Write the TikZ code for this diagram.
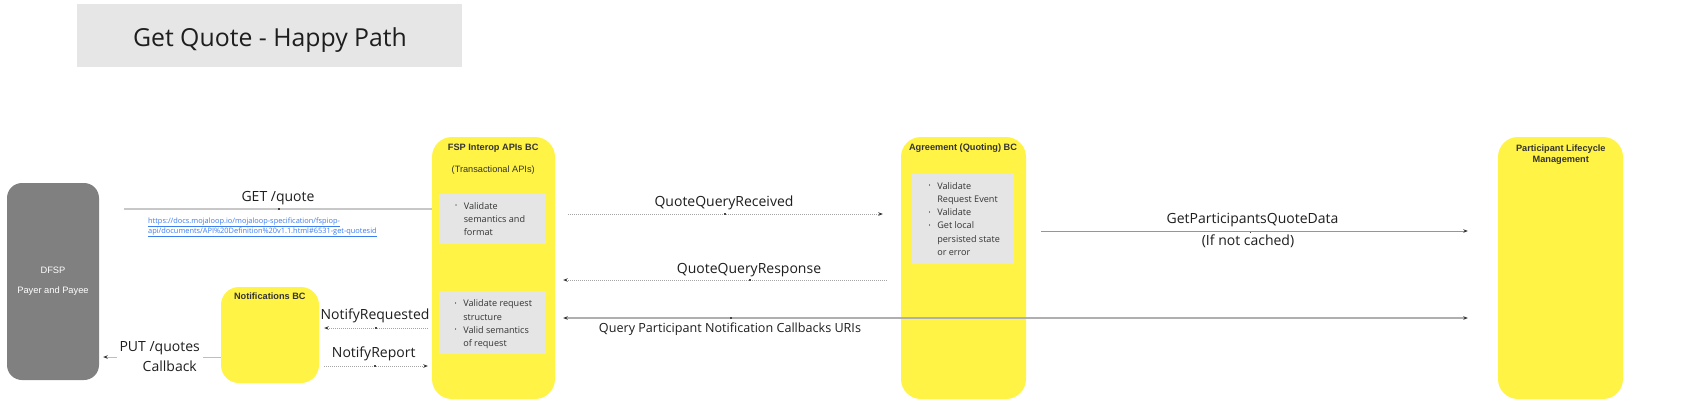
\documentclass[tikz,border=0pt]{standalone}
\usepackage{fontspec}
\setmainfont{Open Sans}
\newfontfamily\arialf{Liberation Sans}
\usetikzlibrary{arrows.meta,calc}
\definecolor{bcyellow}{RGB}{255,243,70}
\definecolor{ingray}{RGB}{229,229,229}
\definecolor{titlegray}{RGB}{230,230,230}
\definecolor{dfspgray}{RGB}{128,128,128}
\definecolor{tdark}{RGB}{51,51,51}
\definecolor{tlabel}{RGB}{30,30,30}
\definecolor{dotgray}{RGB}{165,165,165}
\definecolor{linkblue}{RGB}{60,125,240}
\definecolor{tickc}{RGB}{70,70,70}
\newcommand{\mybul}{\makebox[8.6pt][l]{\raisebox{1.4pt}{\scalebox{0.6}{\textbullet}}}}
\newcommand{\myind}{\hspace*{8.6pt}}
\begin{document}
\begin{tikzpicture}[x=1pt,y=-1pt,
  bc/.style={fill=bcyellow, draw=none, rounded corners=20pt, inner sep=0pt},
  inbox/.style={fill=ingray, draw=none, inner sep=0pt},
  bct/.style={font=\arialf\bfseries\fontsize{9.2}{11}\selectfont, text=tdark, inner sep=0pt, anchor=base},
  bcs/.style={font=\arialf\fontsize{9.2}{11}\selectfont, text=tdark, inner sep=0pt, anchor=base},
  lbl/.style={font=\fontsize{14}{20}\selectfont, text=tlabel, inner sep=0pt, anchor=base},
  btxt/.style={font=\fontsize{9.1}{13.3}\selectfont, text=tdark, inner sep=0pt, anchor=base west},
  urltxt/.style={font=\fontsize{7.4}{10}\selectfont, text=linkblue, inner sep=0pt, anchor=base west},
  dotc/.style={draw=dotgray, line width=0.9pt, dash pattern=on 0.9pt off 1.1pt},
  arr/.style={-{Stealth[length=4.5pt,width=3.5pt,color=tdark]}},
  biarr/.style={{Stealth[length=4.5pt,width=3.5pt,color=tdark]}-{Stealth[length=4.5pt,width=3.5pt,color=tdark]}},
  getline/.style={draw={rgb,255:red,200;green,200;blue,200}, line width=1.5pt},
  putline/.style={draw={rgb,255:red,190;green,190;blue,190}, line width=1pt},
  qline/.style={draw={rgb,255:red,175;green,175;blue,175}, line width=1.3pt},
  gline/.style={draw={rgb,255:red,150;green,150;blue,150}, line width=1pt},
  midtick/.style={fill=tickc}
]
\useasboundingbox (0,0) rectangle (1700,405);
\fill[white] (0,0) rectangle (1700,405);

% title
\node[fill=titlegray, minimum width=385pt, minimum height=63pt, inner sep=0pt] (titlebox) at (269.5,35.5) {};
\node[font=\fontsize{24.8}{30}\selectfont, text=tlabel, anchor=base, inner sep=0pt] (title) at (270,46) {Get Quote - Happy Path};

% DFSP
\node[fill=dfspgray, rounded corners=15pt, minimum width=92pt, minimum height=197pt, inner sep=0pt] (dfsp) at (53,281.5) {};
\node[font=\arialf\fontsize{9.3}{20}\selectfont, text=white, inner sep=0pt, anchor=base] (dfspt) at (53,273.7) {\begin{tabular}[t]{@{}c@{}}DFSP\\Payer and Payee\end{tabular}};

% Notifications BC
\node[bc, rounded corners=18pt, minimum width=98pt, minimum height=96pt] (notif) at (270,335) {};
\node[bct] (notift) at (269.8,299.3) {Notifications BC};

% FSP Interop APIs BC
\node[bc, minimum width=123pt, minimum height=262pt] (fsp) at (493.5,268) {};
\node[bct] (fspt) at (493.2,150.7) {FSP Interop APIs BC};
\node[bcs] (fsps) at (493.2,172) {(Transactional APIs)};
\node[inbox, minimum width=107pt, minimum height=50pt] (fspin1) at (492.5,219) {};
\node[btxt] (fspin1t) at (455,209.3) {\begin{tabular}[t]{@{}l@{}}\mybul Validate\\ \myind semantics and\\ \myind format\end{tabular}};
\node[inbox, minimum width=107pt, minimum height=63pt] (fspin2) at (492.5,322.5) {};
\node[btxt] (fspin2t) at (454.5,306.7) {\begin{tabular}[t]{@{}l@{}}\mybul Validate request\\ \myind structure\\ \mybul Valid semantics\\ \myind of request\end{tabular}};

% Agreement (Quoting) BC
\node[bc, minimum width=125pt, minimum height=262pt] (agr) at (963.5,268) {};
\node[bct] (agrt) at (963,150.7) {Agreement (Quoting) BC};
\node[inbox, minimum width=102pt, minimum height=90pt] (agrin) at (963,219) {};
\node[btxt] (agrint) at (928.5,189) {\begin{tabular}[t]{@{}l@{}}\mybul Validate\\ \myind Request Event\\ \mybul Validate\\ \mybul Get local\\ \myind persisted state\\ \myind or error\end{tabular}};

% Participant Lifecycle Management
\node[bc, minimum width=125pt, minimum height=262pt] (plm) at (1560.5,268) {};
\node[bct] (plmt) at (1560.8,151) {\begin{tabular}[t]{@{}c@{}}Participant Lifecycle\\Management\end{tabular}};

% helper rows
\coordinate (y214) at (0,214);
\coordinate (y231) at (0,231);
\coordinate (y280) at (0,280);
\coordinate (y318) at (0,318);
\coordinate (y328) at (0,328);
\coordinate (y357) at (0,357);
\coordinate (y366) at (0,366);
\coordinate (getS) at (124,209);

% GET /quote
\draw[getline] (getS) -- (getS -| fsp.west);
\node[lbl] (getl) at (278,201) {GET /quote};
\node[urltxt] (url1) at (148,223.3) {\underline{https://docs.mojaloop.io/mojaloop-specification/fspiop-}};
\node[urltxt] (url2) at (148,233.3) {\underline{api/documents/API\%20Definition\%20v1.1.html\#6531-get-quotesid}};

% PUT /quotes Callback
\draw[putline, arr, shorten >=4pt] (notif.west |- y357) -- (dfsp.east |- y357);
\node[font=\fontsize{14}{20}\selectfont, text=tlabel, fill=white, inner sep=3pt, anchor=base east] (putl) at (203,351) {\begin{tabular}[t]{@{}r@{}}PUT /quotes\\Callback\hspace*{3pt}\end{tabular}};

% Notify connectors
\draw[dotc, arr, shorten <=4pt, shorten >=5pt] (fsp.west |- y328) -- (notif.east |- y328);
\node[lbl] (nreql) at (375,319.3) {NotifyRequested};
\draw[dotc, arr, shorten <=5pt, shorten >=4pt] (notif.east |- y366) -- (fsp.west |- y366);
\node[lbl] (nrepl) at (373.7,357.7) {NotifyReport};

% Quote query connectors
\draw[dotc, arr, shorten <=13pt, shorten >=18pt] (fsp.east |- y214) -- (agr.west |- y214);
\node[lbl] (qqrl) at (724,206) {QuoteQueryReceived};
\draw[dotc, arr, shorten <=14pt, shorten >=8pt] (agr.west |- y280) -- (fsp.east |- y280);
\node[lbl] (qqsl) at (749,273.3) {QuoteQueryResponse};

% Query Participant Notification Callbacks URIs
\draw[qline, biarr, shorten <=8pt, shorten >=30pt] (fsp.east |- y318) -- (plm.west |- y318);
\node[lbl, font=\fontsize{12.6}{18}\selectfont] (qpl) at (730,332) {Query Participant Notification Callbacks URIs};

% GetParticipantsQuoteData
\draw[gline, arr, shorten <=15pt, shorten >=30pt] (agr.east |- y231) -- (plm.west |- y231);
\node[lbl] (gpl) at (1252.5,223.3) {GetParticipantsQuoteData};
\node[lbl] (gpl2) at (1248,245.5) {(If not cached)};

% small midpoint marks
\fill[midtick] (278,208.2) rectangle ++(1.5,1.5);
\fill[midtick] (724,213.3) rectangle ++(1.5,1.5);
\fill[midtick] (749,279.3) rectangle ++(1.5,1.5);
\fill[midtick] (730,317.3) rectangle ++(1.5,1.5);
\fill[midtick] (375,327.3) rectangle ++(1.5,1.5);
\fill[midtick] (374,365.3) rectangle ++(1.5,1.5);
\fill[midtick] (1250,232) rectangle ++(1.2,1.2);
\end{tikzpicture}
\end{document}
